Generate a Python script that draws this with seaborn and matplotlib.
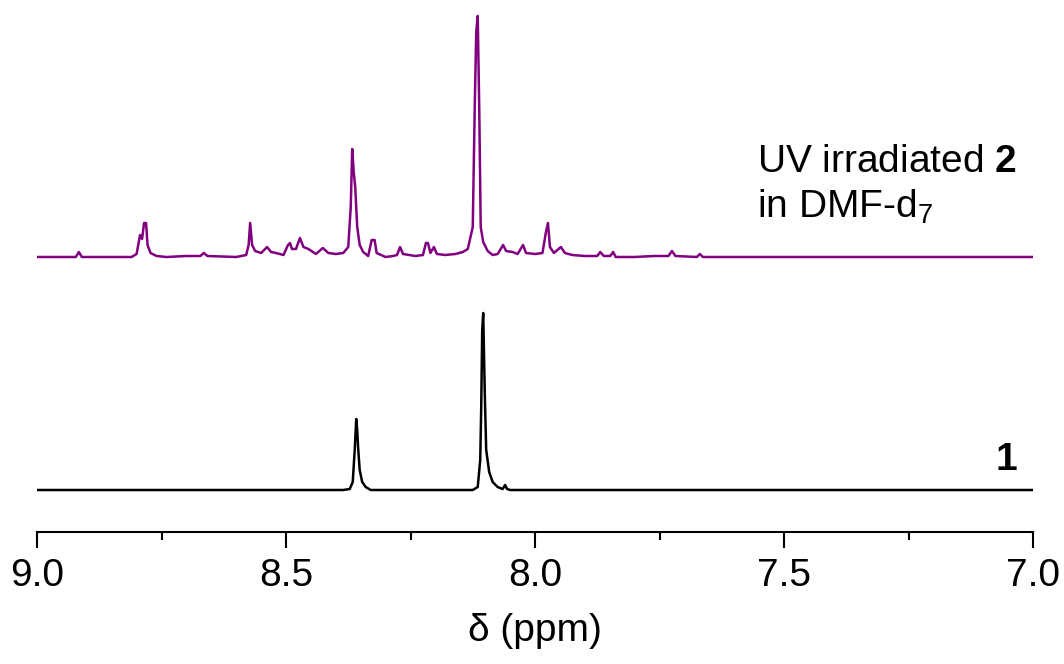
import numpy as np
import pandas as pd
import seaborn as sns
import matplotlib.pyplot as plt
from matplotlib.ticker import MultipleLocator

# purple trace: UV irradiated 2 in DMF-d7 (shift in ppm, intensity in arb. units)
uv_shift = [9.00, 8.922, 8.916, 8.910, 8.81, 8.800, 8.796, 8.793, 8.789, 8.785,
            8.781, 8.778, 8.772, 8.760, 8.74, 8.70, 8.672, 8.665, 8.658, 8.60, 8.580,
            8.575, 8.572, 8.568, 8.562, 8.55, 8.538, 8.530, 8.52, 8.505, 8.496,
            8.492, 8.488, 8.480, 8.472, 8.465, 8.455, 8.44, 8.426, 8.415, 8.40,
            8.385, 8.375, 8.370, 8.367, 8.364, 8.361, 8.357, 8.352, 8.345, 8.335,
            8.328, 8.325, 8.322, 8.318, 8.30, 8.285, 8.277, 8.271, 8.265, 8.24, 8.225,
            8.219, 8.215, 8.210, 8.203, 8.197, 8.18, 8.160, 8.145, 8.135, 8.125,
            8.121, 8.118, 8.115, 8.112, 8.109, 8.104, 8.095, 8.085, 8.075, 8.064,
            8.058, 8.045, 8.035, 8.024, 8.018, 8.00, 7.985, 7.978, 7.974, 7.970,
            7.962, 7.948, 7.940, 7.925, 7.90, 7.875, 7.869, 7.862, 7.849, 7.843,
            7.838, 7.80, 7.76, 7.732, 7.725, 7.718, 7.675, 7.669, 7.663, 7.00]
uv_int = [0, 0, 5, 0, 0, 3, 14, 22, 18, 34,
          34, 12, 4, 1, 0, 1, 1, 4, 1, 0, 2,
          12, 34, 12, 6, 4, 10, 5, 4, 2, 12,
          14, 8, 8, 19, 10, 8, 3, 9, 4, 3,
          4, 10, 50, 108, 85, 70, 30, 12, 5, 1,
          17, 17, 17, 4, 0, 1, 2, 10, 3, 1, 2,
          14, 14, 4, 10, 3, 2, 3, 5, 8, 30,
          150, 225, 241, 150, 30, 15, 6, 2, 3, 12,
          6, 5, 3, 12, 4, 3, 4, 25, 34, 10,
          4, 10, 4, 2, 1, 1, 5, 1, 1, 5,
          0, 0, 1, 1, 6, 1, 0, 3, 0, 0]

# black trace: compound 1
c1_shift = [9.00, 8.385, 8.372, 8.366, 8.362, 8.359, 8.357, 8.355, 8.352, 8.347,
            8.340, 8.330, 8.125, 8.115, 8.110, 8.108, 8.106, 8.104, 8.101, 8.098,
            8.092, 8.085, 8.075, 8.065, 8.060, 8.056, 8.05, 7.00]
c1_int = [0, 0, 1, 8, 40, 71, 60, 41, 20, 8,
          3, 0, 0, 3, 30, 82, 160, 177, 100, 40,
          18, 8, 3, 1, 5, 1, 0, 0]

offset = 233

df_uv = pd.DataFrame({'shift': uv_shift, 'intensity': np.array(uv_int) + offset})
df_c1 = pd.DataFrame({'shift': c1_shift, 'intensity': c1_int})

sns.set_style('ticks', {'axes.edgecolor': 'black', 'text.color': 'black',
                        'xtick.color': 'black', 'axes.labelcolor': 'black'})
plt.rcParams['font.family'] = ['Liberation Sans', 'DejaVu Sans']
plt.rcParams['mathtext.fontset'] = 'custom'
plt.rcParams['mathtext.rm'] = 'Liberation Sans'
plt.rcParams['mathtext.bf'] = 'Liberation Sans:bold'

fig = plt.figure(figsize=(10.64, 6.64), dpi=100)
ax = fig.add_axes([37 / 1064, 1 - 532 / 664, 996 / 1064, 532 / 664])

sns.lineplot(data=df_uv, x='shift', y='intensity', color='#800080', lw=1.8,
             estimator=None, ax=ax)
sns.lineplot(data=df_c1, x='shift', y='intensity', color='black', lw=1.8,
             estimator=None, ax=ax)

ax.set_xlim(9.0, 7.0)
ax.set_ylim(-42, 490)
ax.xaxis.set_minor_locator(MultipleLocator(0.25))
ax.set_xticks([9.0, 8.5, 8.0, 7.5, 7.0])
ax.set_xticklabels(['9.0', '8.5', '8.0', '7.5', '7.0'])
ax.tick_params(axis='x', which='major', length=11.5, width=1.5, labelsize=28,
               pad=7, colors='black')
ax.tick_params(axis='x', which='minor', length=6, width=1.5, colors='black')
ax.set_yticks([])
ax.set_ylabel('')
ax.set_xlabel('δ (ppm)', fontsize=28, labelpad=14, color='black')
for s in ['top', 'right', 'left']:
    ax.spines[s].set_visible(False)
ax.spines['bottom'].set_linewidth(1.5)
ax.spines['bottom'].set_color('black')
ax.patch.set_alpha(0)

ax.text(7.554, 318, 'UV irradiated $\\mathbf{2}$', fontsize=28, ha='left',
        va='baseline', color='black')
ax.text(7.554, 272, 'in DMF-d$_7$', fontsize=28, ha='left', va='baseline',
        color='black')
ax.text(7.032, 20, '1', fontsize=28, fontweight='bold', ha='right',
        va='baseline', color='black')

plt.savefig('out.png', dpi=100)
